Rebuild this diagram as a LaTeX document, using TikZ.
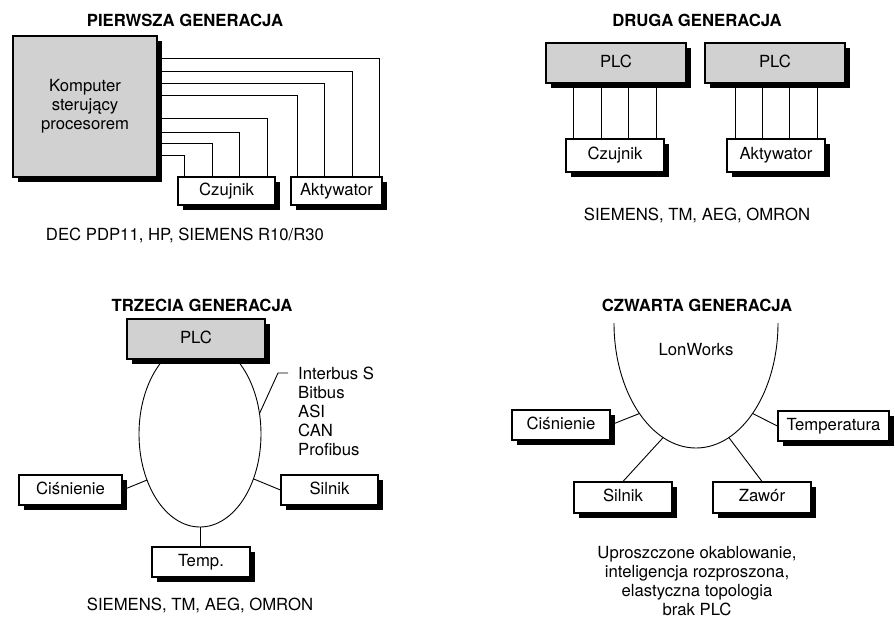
\documentclass[tikz,border=0pt]{standalone}
\usepackage{fontspec}
\setmainfont{TeX Gyre Heros}
\usetikzlibrary{shadows,shapes.geometric}
\pgfdeclarelayer{background}
\pgfsetlayers{background,main}
\begin{document}
\begin{tikzpicture}[x=1pt,y=-1pt,
  every node/.style={font=\fontsize{16.7}{19}\selectfont},
  box/.style={draw, line width=1.1pt, fill=white, inner sep=2pt,
    drop shadow={shadow xshift=5pt, shadow yshift=-5pt, fill=black, opacity=1}},
  graybox/.style={box, fill=black!18},
  tb/.style={text height=12pt, text depth=3.5pt},
  wire/.style={line width=0.9pt},
  title/.style={font=\bfseries\fontsize{16.7}{19}\selectfont},
  ring/.style={draw, ellipse, line width=0.9pt, inner sep=0pt, outer sep=0pt}]
\useasboundingbox (0,0) rectangle (895,618);

% ---------- Pierwsza generacja ----------
\node[title] (t1) at (185,20) {PIERWSZA GENERACJA};
\node[graybox, minimum width=144, minimum height=141, align=center] (comp) at (85,106.5) {Komputer\\sterujący\\procesorem};
\node[box, tb, minimum width=97, minimum height=28] (cz1) at (226.5,191) {Czujnik};
\node[box, tb, minimum width=91, minimum height=28] (ak1) at (336.5,191) {Aktywator};
\node (n1) at (185,235) {DEC PDP11, HP, SIEMENS R10/R30};
\begin{pgfonlayer}{background}
\foreach \y/\x in {58/379,71/352,83/324,95/297}
  \draw[wire] (comp.east |- 0,\y) -| (\x,0 |- ak1.north);
\foreach \y/\x in {118/267,132/239,143/212,155/184}
  \draw[wire] (comp.east |- 0,\y) -| (\x,0 |- cz1.north);
\end{pgfonlayer}

% ---------- Druga generacja ----------
\node[title] (t2) at (697,20) {DRUGA GENERACJA};
\node[graybox, tb, minimum width=140, minimum height=40] (plcA) at (616,63) {PLC};
\node[graybox, tb, minimum width=140, minimum height=40] (plcB) at (775,63) {PLC};
\node[box, tb, minimum width=98, minimum height=33] (cz2) at (615,155.5) {Czujnik};
\node[box, tb, minimum width=98, minimum height=33] (ak2) at (776,155.5) {Aktywator};
\node (n2) at (697,215) {SIEMENS, TM, AEG, OMRON};
\begin{pgfonlayer}{background}
\foreach \x in {573,601,628,656}
  \draw[wire] (\x,0 |- plcA.south) -- (\x,0 |- cz2.north);
\foreach \x in {735,762,789,817}
  \draw[wire] (\x,0 |- plcB.south) -- (\x,0 |- ak2.north);
\end{pgfonlayer}

% ---------- Trzecia generacja ----------
\node[title] (t3) at (202,305) {TRZECIA GENERACJA};
\begin{pgfonlayer}{background}
\node[ring, minimum width=122, minimum height=186] (bus3) at (200,434) {};
\end{pgfonlayer}
\node[graybox, tb, minimum width=138, minimum height=40] (plc3) at (196,339) {PLC};
\node[box, tb, minimum width=103, minimum height=30] (cis3) at (70.5,490) {Ciśnienie};
\node[box, tb, minimum width=97, minimum height=30] (sil3) at (329.5,490) {Silnik};
\node[box, tb, minimum width=98, minimum height=30] (tmp3) at (201,562) {Temp.};
\draw[wire] (cis3.east) -- (bus3.221);
\draw[wire] (bus3.320) -- (sil3.west);
\draw[wire] (bus3.south) -- (bus3.south |- tmp3.north);
\coordinate (lead) at (278,373);
\node[anchor=north west, inner sep=0pt, align=left] (buses) at (298,366.5) {Interbus S\\Bitbus\\ASI\\CAN\\Profibus};
\draw[wire] (bus3.19) -- (lead) -- ++(10,0);
\node (n3) at (200,605) {SIEMENS, TM, AEG, OMRON};

% ---------- Czwarta generacja ----------
\node[title] (t4) at (697,305) {CZWARTA GENERACJA};
\begin{pgfonlayer}{background}
\begin{scope}
\clip (590,323) rectangle (800,470);
\node[ring, minimum width=164, minimum height=250] (lon) at (696,323) {};
\end{scope}
\end{pgfonlayer}
\node (lonl) at (696,350) {LonWorks};
\node[box, tb, minimum width=98, minimum height=30] (cis4) at (561,425) {Ciśnienie};
\node[box, tb, minimum width=111, minimum height=30] (tmp4) at (833.5,426) {Temperatura};
\node[box, tb, minimum width=98, minimum height=31] (sil4) at (623,497.5) {Silnik};
\node[box, tb, minimum width=98, minimum height=31] (zaw4) at (762,497.5) {Zawór};
\draw[wire] (cis4.east) -- (lon.238);
\draw[wire] (lon.302) -- (tmp4.west);
\draw[wire] (lon.254) -- (sil4.north);
\draw[wire] (lon.286) -- (zaw4.north);
\node[align=center] (n4) at (697,581.5) {Uproszczone okablowanie,\\inteligencja rozproszona,\\elastyczna topologia\\brak PLC};
\end{tikzpicture}
\end{document}
